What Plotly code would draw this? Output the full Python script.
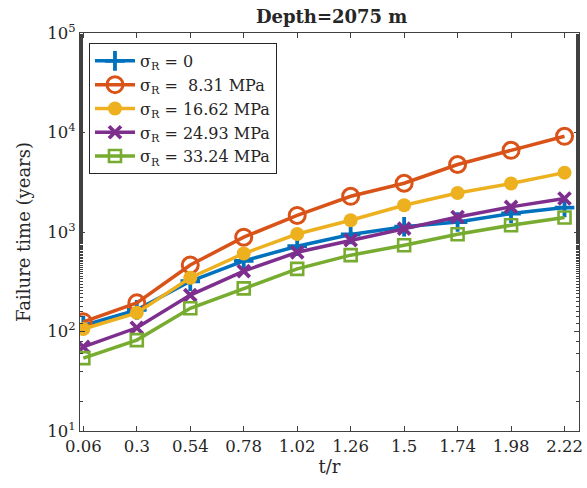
import plotly.graph_objects as go

# t/r ratio values
t_over_r = [0.06, 0.3, 0.54, 0.78, 1.02, 1.26, 1.5, 1.74, 1.98, 2.22]

# Failure time (years) for each residual stress level
fail_0 = [115, 165, 320, 512, 720, 944, 1130, 1260, 1535, 1760]
fail_831 = [125, 194, 466, 887, 1468, 2285, 3090, 4770, 6620, 9160]
fail_1662 = [106, 154, 347, 608, 955, 1313, 1858, 2470, 3070, 3950]
fail_2493 = [70, 109, 232, 405, 625, 830, 1080, 1415, 1788, 2170]
fail_3324 = [54, 82, 171, 271, 426, 585, 736, 950, 1170, 1400]

series_names = [
    "σ<sub>R</sub> = 0",
    "σ<sub>R</sub> =  8.31 MPa",
    "σ<sub>R</sub> = 16.62 MPa",
    "σ<sub>R</sub> = 24.93 MPa",
    "σ<sub>R</sub> = 33.24 MPa",
]

x_ticks = [0.06, 0.3, 0.54, 0.78, 1.02, 1.26, 1.5, 1.74, 1.98, 2.22]
x_ticktext = ["0.06", "0.3", "0.54", "0.78", "1.02", "1.26", "1.5", "1.74", "1.98", "2.22"]
y_ticks = [10, 100, 1000, 10000, 100000]
y_ticktext = ["10<sup>1</sup>", "10<sup>2</sup>", "10<sup>3</sup>", "10<sup>4</sup>", "10<sup>5</sup>"]

FONT = "DejaVu Serif"
TXT = "#262626"

styles = [
    dict(color="#0072BD", symbol="cross-thin-open", size=14, lw=3.8),
    dict(color="#D95319", symbol="circle-open", size=16, lw=3),
    dict(color="#EDB120", symbol="circle", size=14, lw=0),
    dict(color="#7E2F8E", symbol="x-thin-open", size=12, lw=3.8),
    dict(color="#77AC30", symbol="square-open", size=12, lw=2.6),
]

fig = go.Figure()
for name, ys, st in zip(series_names,
                        [fail_0, fail_831, fail_1662, fail_2493, fail_3324],
                        styles):
    fig.add_trace(go.Scatter(
        x=t_over_r, y=ys, name=name, mode="lines+markers",
        line=dict(color=st["color"], width=3.5),
        marker=dict(symbol=st["symbol"], size=st["size"], color=st["color"],
                    line=dict(color=st["color"], width=st["lw"])),
    ))

axis_common = dict(
    showline=True, linecolor="#404040", linewidth=1, mirror="ticks",
    ticks="inside", ticklen=5, tickcolor="#404040", showgrid=False,
    zeroline=False, tickfont=dict(family=FONT, size=16.5, color=TXT),
    ticklabeloverflow="allow",
)

fig.update_xaxes(
    range=[0.045, 2.285], tickvals=x_ticks, ticktext=x_ticktext,
    title=dict(text="t/r", font=dict(family=FONT, size=18, color=TXT),
               standoff=2),
    **axis_common,
)
fig.update_yaxes(
    type="log", range=[1, 5], tickvals=y_ticks, ticktext=y_ticktext,
    minor=dict(ticks="inside", ticklen=3, tickcolor="#404040", showgrid=False),
    title=dict(text="Failure time (years)",
               font=dict(family=FONT, size=18, color=TXT), standoff=12),
    **axis_common,
)

fig.update_layout(
    width=587, height=488,
    margin=dict(l=80, r=4, t=33, b=57),
    paper_bgcolor="white", plot_bgcolor="white",
    title=dict(text="<b>Depth=2075 m</b>", x=0.565, xanchor="center",
               y=0.965, yanchor="middle",
               font=dict(family=FONT, size=18, color=TXT)),
    legend=dict(
        x=0.018, y=0.975, xanchor="left", yanchor="top",
        bgcolor="white", bordercolor=TXT, borderwidth=1,
        font=dict(family=FONT, size=16, color=TXT),
        tracegroupgap=0, itemwidth=40,
    ),
    showlegend=True,
)

fig.write_html("out.html")
